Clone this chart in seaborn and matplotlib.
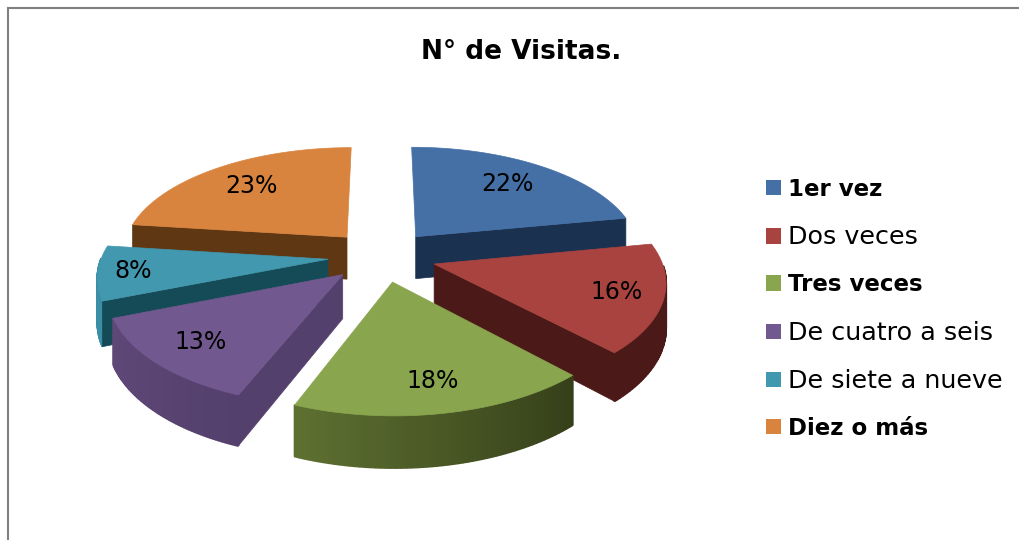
import numpy as np
import matplotlib
matplotlib.use('agg')
import matplotlib.pyplot as plt
from matplotlib.patches import Patch
import seaborn as sns

categorias = ['1er vez', 'Dos veces', 'Tres veces', 'De cuatro a seis', 'De siete a nueve', 'Diez o más']
valores = [22, 16, 18, 13, 8, 23]
negritas = [True, False, True, False, False, True]

colores = ['#4570a6', '#a84340', '#89a54e', '#71588f', '#4198af', '#d9843e']
paredes = ['#1b3150', '#4b1a18', '#3f4d20', '#54406c', '#154b57', '#5f3713']
arco_ini = ['#1b3150', '#4b1a18', '#353f19', '#54406c', '#3b8ea5', '#5f3713']
arco_fin = ['#1b3150', '#4b1a18', '#5d7031', '#5f4878', '#3b8ea5', '#5f3713']
radio_etiqueta = [0.72, 0.80, 0.78, 0.78, 0.85, 0.72]
pared_visible = ['fin', 'fin', None, 'ini', 'ini', 'ini']  # cara radial que da al frente
orden = [0, 5, 4, 1, 3, 2]  # de atras hacia delante

# proyeccion en perspectiva del disco
cx, cy = 382, 256
A, B, k = 226, 107, 0.14
separacion = 0.24
alto = 43


def proyectar(u, v, h=0):
    s = 1 / (1 + k * v)
    return cx + A * u * s, cy - B * v * s + h * s


sns.set_theme(style='white')
plt.rcParams['font.family'] = ['DejaVu Sans']

fig = plt.figure(figsize=(10.2, 5.4), dpi=100)
ax = fig.add_axes([8 / 1020, 0, 1012 / 1020, 532 / 540])
ax.set_xlim(8, 1020)
ax.set_ylim(540, 8)
ax.set_xticks([])
ax.set_yticks([])
sns.despine(ax=ax, top=False, left=False, right=True, bottom=True)
for lado in ['left', 'top']:
    ax.spines[lado].set_color('#808080')
    ax.spines[lado].set_linewidth(1.5)

acum = np.cumsum([0] + valores) / sum(valores) * 2 * np.pi

for i in orden:
    ini, fin = acum[i], acum[i + 1]
    med = (ini + fin) / 2
    ex, ey = separacion * np.sin(med), separacion * np.cos(med)
    t = np.linspace(ini, fin, 60)
    u = ex + np.sin(t)
    v = ey + np.cos(t)

    # lado curvo con degradado, solo lo que mira al frente
    tonos = sns.blend_palette([arco_ini[i], arco_fin[i]], len(t) - 1)
    for j in range(len(t) - 1):
        if np.cos(t[j]) > 0:
            continue
        p1 = proyectar(u[j], v[j])
        p2 = proyectar(u[j + 1], v[j + 1])
        p3 = proyectar(u[j + 1], v[j + 1], alto)
        p4 = proyectar(u[j], v[j], alto)
        ax.fill(*zip(p1, p2, p3, p4), color=tonos[j], lw=1.5, joinstyle='bevel')

    # pared radial
    if pared_visible[i]:
        borde = ini if pared_visible[i] == 'ini' else fin
        ub, vb = ex + np.sin(borde), ey + np.cos(borde)
        p1 = proyectar(ex, ey)
        p2 = proyectar(ub, vb)
        p3 = proyectar(ub, vb, alto)
        p4 = proyectar(ex, ey, alto)
        ax.fill(*zip(p1, p2, p3, p4), color=paredes[i], lw=0.5)

    # cara superior
    xs, ys = proyectar(np.r_[ex, u], np.r_[ey, v])
    ax.fill(xs, ys, color=colores[i], lw=0.5)

    # porcentaje
    r = radio_etiqueta[i]
    xt, yt = proyectar(ex + r * np.sin(med), ey + r * np.cos(med))
    ax.text(xt, yt, f'{valores[i]}%', ha='center', va='center', fontsize=17, color='black')

ax.text(521, 52, 'N° de Visitas.', ha='center', va='center', fontsize=19, fontweight='bold', color='black')

manejadores = [Patch(facecolor=c, edgecolor='none') for c in colores]
leyenda = ax.legend(manejadores, categorias, loc='upper left', bbox_to_anchor=(766, 178),
                    bbox_transform=ax.transData, frameon=False, fontsize=17,
                    handlelength=0.63, handleheight=0.63, handletextpad=0.3,
                    labelspacing=1.025, borderpad=0, borderaxespad=0)
for txt, negrita in zip(leyenda.get_texts(), negritas):
    txt.set_color('black')
    if negrita:
        txt.set_fontweight('bold')
        txt.set_fontsize(16.5)
    else:
        txt.set_fontsize(18.3)

fig.savefig('out.png', dpi=100)
